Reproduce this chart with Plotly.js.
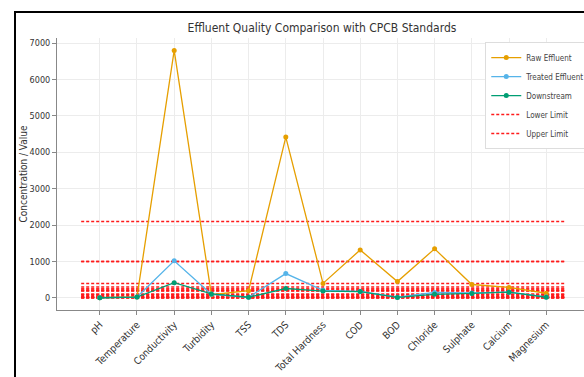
<!DOCTYPE html>
<html>
<head>
<meta charset="utf-8">
<script src="https://cdn.plot.ly/plotly-3.0.1.min.js"></script>
<style>
html,body{margin:0;padding:0;overflow:hidden;background:#fff;}
#frame{position:absolute;left:14px;top:11px;width:640px;height:400px;border-left:2px solid #000;border-top:2px solid #000;pointer-events:none;z-index:5;}
#chart{position:absolute;left:0;top:0;}
</style>
</head>
<body>
<div id="chart"></div>
<div id="frame"></div>
<script>
const parameters = ["pH","Temperature","Conductivity","Turbidity","TSS","TDS","Total Hardness","COD","BOD","Chloride","Sulphate","Calcium","Magnesium"];
const rawEffluent = [7, 28, 6800, 90, 200, 4420, 400, 1320, 450, 1350, 370, 290, 130];
const treatedEffluent = [7, 26, 1020, 100, 20, 670, 210, 180, 20, 150, 140, 160, 30];
const downstream = [7, 25, 420, 110, 20, 260, 190, 175, 15, 100, 125, 160, 20];
const lowerLimits = [6.5, null, null, 5, null, null, 200, null, null, 250, 200, 75, 30];
const upperLimits = [8.5, 40, 1000, 10, 100, 2100, 300, 250, 30, 1000, 400, 200, 100];

const idx = parameters.map((_, i) => i);
const n = parameters.length;

function limitTrace(vals, name) {
  const xs = [], ys = [];
  vals.forEach(v => {
    if (v === null) return;
    xs.push(-0.5, n - 0.5, null);
    ys.push(v, v, null);
  });
  return {x: xs, y: ys, mode: 'lines', name: name,
    line: {color: '#ff1a1a', width: 1.5, dash: '3px,2px'}, hoverinfo: 'skip'};
}

const traces = [
  limitTrace(lowerLimits, 'Lower Limit'),
  limitTrace(upperLimits, 'Upper Limit'),
  {x: idx, y: rawEffluent, mode: 'lines+markers', name: 'Raw Effluent',
   line: {color: '#E69F00', width: 1.3}, marker: {color: '#E69F00', size: 5}},
  {x: idx, y: treatedEffluent, mode: 'lines+markers', name: 'Treated Effluent',
   line: {color: '#56B4E9', width: 1.3}, marker: {color: '#56B4E9', size: 5}},
  {x: idx, y: downstream, mode: 'lines+markers', name: 'Downstream',
   line: {color: '#009E73', width: 1.3}, marker: {color: '#009E73', size: 5}}
];

const fontFam = '"DejaVu Sans Condensed", "Liberation Sans Narrow", "DejaVu Sans", sans-serif';

const layout = {
  width: 620, height: 377,
  margin: {l: 57, r: 31, t: 38, b: 67},
  paper_bgcolor: '#fff', plot_bgcolor: '#fff',
  font: {family: fontFam, color: '#333', size: 9},
  title: {text: 'Effluent Quality Comparison with CPCB Standards', x: 322/620, xanchor: 'center',
          y: 0.925, yanchor: 'middle', font: {size: 12, color: '#333', family: fontFam}},
  showlegend: true,
  legend: {x: 0.805, xanchor: 'left', y: 0.985, yanchor: 'top', traceorder: 'normal',
           bgcolor: '#fff', bordercolor: '#ddd', borderwidth: 1, font: {size: 8, color: '#444'},
           itemwidth: 30, tracegroupgap: 0},
  xaxis: {range: [-1.15, n - 1 + 1.15], tickmode: 'array', tickvals: idx, ticktext: parameters,
          tickangle: -45, showgrid: true, gridcolor: '#ececec', gridwidth: 1, zeroline: false,
          showline: true, linecolor: '#888', linewidth: 1, ticks: 'outside', ticklen: 4, tickcolor: '#888',
          tickfont: {size: 10, color: '#333'}},
  yaxis: {range: [-330, 7140], tickmode: 'linear', tick0: 0, dtick: 1000,
          showgrid: true, gridcolor: '#ececec', gridwidth: 1, zeroline: false,
          showline: true, linecolor: '#888', linewidth: 1, ticks: 'outside', ticklen: 4, tickcolor: '#888',
          tickfont: {size: 9, color: '#333'},
          title: {text: 'Concentration / Value', font: {size: 10, color: '#333'}, standoff: 0}}
};

const ordered = [traces[2], traces[3], traces[4], traces[0], traces[1]];
ordered.forEach((t, i) => { t.legendrank = i + 1; });

Plotly.newPlot('chart', traces, layout, {displayModeBar: false, staticPlot: true});
</script>
</body>
</html>
